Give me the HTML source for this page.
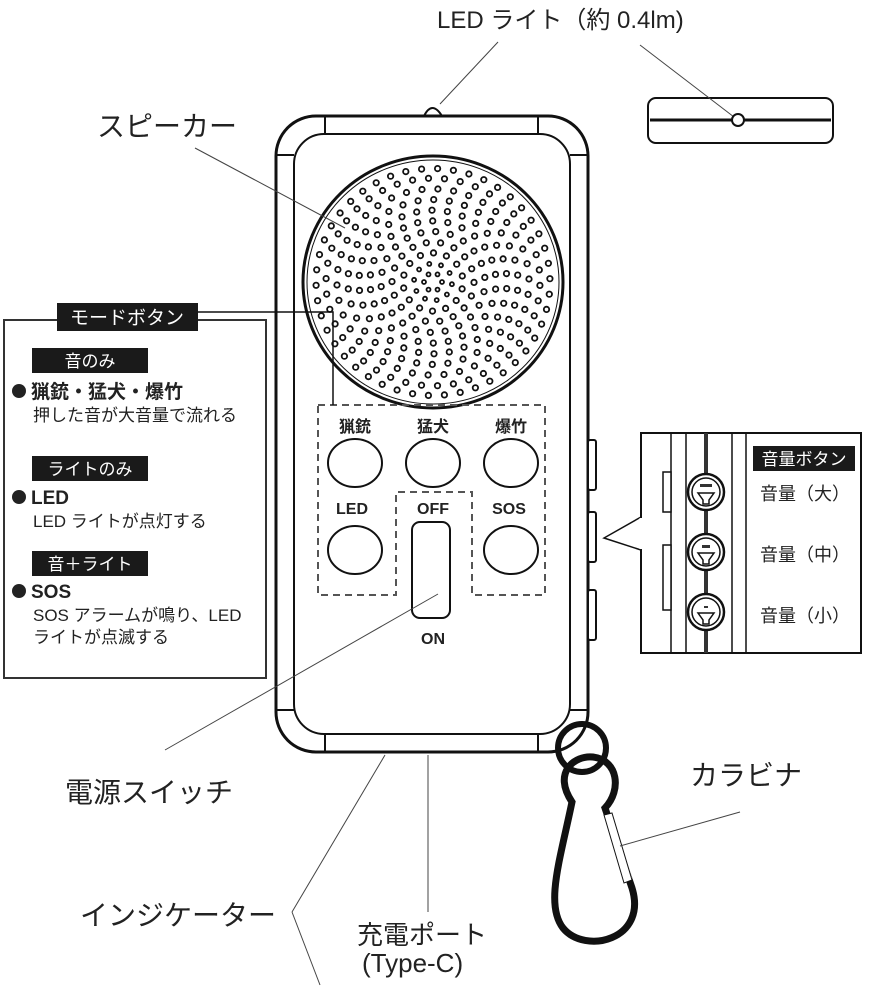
<!DOCTYPE html>
<html><head><meta charset="utf-8"><style>
html,body{margin:0;padding:0;background:#fff;}
svg{display:block;}
text{font-family:"Liberation Sans","Noto Sans CJK JP",sans-serif;fill:#222;}
</style></head><body>
<svg id="s" width="869" height="987" viewBox="0 0 869 987" xmlns="http://www.w3.org/2000/svg">
<text x="437" y="28" font-size="24">LED ライト（約 0.4lm)</text>
<line x1="498" y1="42" x2="440" y2="104" stroke="#444" stroke-width="1"/>
<path d="M424,116 Q432,100 442,116" fill="#fff" stroke="#111" stroke-width="2"/>
<rect x="648" y="98" width="185" height="45" rx="8" fill="#fff" stroke="#111" stroke-width="2"/>
<line x1="650" y1="120" x2="831" y2="120" stroke="#111" stroke-width="3"/>
<line x1="640" y1="45" x2="734" y2="117" stroke="#444" stroke-width="1"/>
<circle cx="738" cy="120" r="6" fill="#fff" stroke="#111" stroke-width="2"/>
<text x="97" y="136" font-size="28">スピーカー</text>
<!-- device -->
<rect x="276" y="116" width="312" height="636" rx="40" fill="#fff" stroke="#111" stroke-width="3"/>
<rect x="294" y="134" width="276" height="600" rx="30" fill="#fff" stroke="#111" stroke-width="2"/>
<g stroke="#111" stroke-width="2">
<line x1="325" y1="116" x2="325" y2="134"/><line x1="538" y1="116" x2="538" y2="134"/>
<line x1="325" y1="734" x2="325" y2="752"/><line x1="538" y1="734" x2="538" y2="752"/>
<line x1="276" y1="155" x2="294" y2="155"/><line x1="570" y1="155" x2="588" y2="155"/>
<line x1="276" y1="710" x2="294" y2="710"/><line x1="570" y1="710" x2="588" y2="710"/>
</g>
<g fill="#fff" stroke="#111" stroke-width="2">
<rect x="588" y="440" width="8" height="50" rx="2"/>
<rect x="588" y="512" width="8" height="50" rx="2"/>
<rect x="588" y="590" width="8" height="50" rx="2"/>
</g>
<ellipse cx="433" cy="282" rx="130" ry="126" fill="#fff" stroke="#111" stroke-width="3"/>
<ellipse cx="433" cy="282" rx="126" ry="122" fill="none" stroke="#111" stroke-width="1"/>
<g id="dots" fill="#fff" stroke="#111" stroke-width="1.8"></g>
<line x1="195" y1="148" x2="345" y2="228" stroke="#444" stroke-width="1"/>
<path d="M318,405 H545 V595 H472 V492 H396 V595 H318 Z" fill="none" stroke="#555" stroke-width="2" stroke-dasharray="7,5"/>
<g font-size="16" font-weight="bold" text-anchor="middle">
<text x="355" y="432">猟銃</text><text x="433" y="432">猛犬</text><text x="511" y="432">爆竹</text>
<text x="352" y="514">LED</text><text x="433" y="514">OFF</text><text x="509" y="514">SOS</text>
<text x="433" y="644">ON</text>
</g>
<g fill="#fff" stroke="#111" stroke-width="2">
<ellipse cx="355" cy="463" rx="27" ry="24"/><ellipse cx="433" cy="463" rx="27" ry="24"/><ellipse cx="511" cy="463" rx="27" ry="24"/>
<ellipse cx="355" cy="550" rx="27" ry="24"/><ellipse cx="511" cy="550" rx="27" ry="24"/>
<rect x="412" y="522" width="38" height="96" rx="8"/>
</g>
<!-- mode panel -->
<polyline points="198,312 333,312 333,405" fill="none" stroke="#111" stroke-width="1.5"/>
<rect x="4" y="320" width="262" height="358" fill="#fff" stroke="#333" stroke-width="2"/>
<rect x="57" y="303" width="141" height="28" fill="#1a1a1a"/>
<text x="127" y="324" font-size="19" style="fill:#fff" text-anchor="middle">モードボタン</text>
<g font-size="17">
<rect x="32" y="348" width="116" height="25" fill="#1a1a1a"/>
<text x="90" y="367" style="fill:#fff" text-anchor="middle">音のみ</text>
<circle cx="19" cy="391" r="7" fill="#222"/>
<text x="31" y="398" font-size="19" font-weight="bold">猟銃・猛犬・爆竹</text>
<text x="33" y="421">押した音が大音量で流れる</text>
<rect x="32" y="456" width="116" height="25" fill="#1a1a1a"/>
<text x="90" y="475" style="fill:#fff" text-anchor="middle">ライトのみ</text>
<circle cx="19" cy="497" r="7" fill="#222"/>
<text x="31" y="504" font-size="19" font-weight="bold">LED</text>
<text x="33" y="527">LED ライトが点灯する</text>
<rect x="32" y="551" width="116" height="25" fill="#1a1a1a"/>
<text x="90" y="570" style="fill:#fff" text-anchor="middle">音＋ライト</text>
<circle cx="19" cy="591" r="7" fill="#222"/>
<text x="31" y="598" font-size="19" font-weight="bold">SOS</text>
<text x="33" y="621">SOS アラームが鳴り、LED</text>
<text x="33" y="643">ライトが点滅する</text>
</g>
<!-- volume panel -->
<path d="M641,517 L604,538 L641,550" fill="#fff" stroke="#111" stroke-width="1.5"/>
<rect x="641" y="433" width="220" height="220" fill="#fff" stroke="#111" stroke-width="2"/>
<line x1="641" y1="518" x2="641" y2="549" stroke="#fff" stroke-width="3"/>
<g stroke="#111" stroke-width="1.5">
<line x1="671" y1="433" x2="671" y2="653"/><line x1="686" y1="433" x2="686" y2="653"/>
<line x1="732" y1="433" x2="732" y2="653"/><line x1="746" y1="433" x2="746" y2="653"/>
</g>
<line x1="706" y1="433" x2="706" y2="653" stroke="#333" stroke-width="4"/>
<rect x="663" y="472" width="8" height="40" fill="#fff" stroke="#111" stroke-width="1.5"/>
<rect x="663" y="545" width="8" height="65" fill="#fff" stroke="#111" stroke-width="1.5"/>
<g fill="#fff" stroke="#111">
<circle cx="706" cy="492" r="18" stroke-width="2.5"/><circle cx="706" cy="492" r="14" stroke-width="1.5"/>
<circle cx="706" cy="552" r="18" stroke-width="2.5"/><circle cx="706" cy="552" r="14" stroke-width="1.5"/>
<circle cx="706" cy="612" r="18" stroke-width="2.5"/><circle cx="706" cy="612" r="14" stroke-width="1.5"/>
<path d="M698,493 H714 L709,500 V504 H703 V500 Z" stroke-width="1.5"/>
<path d="M698,553 H714 L709,560 V564 H703 V560 Z" stroke-width="1.5"/>
<path d="M698,613 H714 L709,620 V624 H703 V620 Z" stroke-width="1.5"/>
</g>
<g fill="#333"><rect x="700" y="484" width="12" height="3"/><rect x="702" y="545" width="8" height="3"/><rect x="704" y="606" width="4" height="2"/></g>
<rect x="753" y="446" width="102" height="25" fill="#1a1a1a"/>
<text x="804" y="465" font-size="17" style="fill:#fff" text-anchor="middle">音量ボタン</text>
<g font-size="18"><text x="760" y="500">音量（大）</text><text x="760" y="561">音量（中）</text><text x="760" y="622">音量（小）</text></g>
<!-- carabiner -->
<circle cx="582" cy="748" r="24" fill="none" stroke="#111" stroke-width="6"/>
<path d="M572,802 C552,772 575,755 593,757 C618,760 622,790 605,808 L632,888 C648,940 585,955 563,928 C545,905 560,860 572,802 Z" fill="none" stroke="#111" stroke-width="7"/>
<line x1="609" y1="818" x2="628" y2="880" stroke="#fff" stroke-width="9"/>
<path d="M604,815 L612,813 L632,880 L624,883 Z" fill="#fff" stroke="#111" stroke-width="1"/>
<text x="65" y="802" font-size="28">電源スイッチ</text>
<line x1="165" y1="750" x2="438" y2="594" stroke="#444" stroke-width="1"/>
<text x="690" y="785" font-size="28">カラビナ</text>
<line x1="740" y1="812" x2="620" y2="846" stroke="#444" stroke-width="1"/>
<text x="80" y="925" font-size="28">インジケーター</text>
<line x1="292" y1="912" x2="385" y2="755" stroke="#444" stroke-width="1"/>
<line x1="292" y1="912" x2="320" y2="985" stroke="#444" stroke-width="1"/>
<line x1="428" y1="755" x2="428" y2="912" stroke="#444" stroke-width="1"/>
<text x="357" y="944" font-size="26">充電ポート</text>
<text x="362" y="972" font-size="26">(Type-C)</text>
</svg>
<script>
(function(){var g=document.getElementById('dots'),ns='http://www.w3.org/2000/svg';
var cx=433,cy=282;var rings=[[9,6],[19,10],[30,14],[41,18],[52,22],[63,26],[74,30],[85,34],[96,38],[107,42],[117,46]];
rings.forEach(function(r,k){for(var i=0;i<r[1];i++){var a=2*Math.PI*i/r[1]+k*0.12;var c=document.createElementNS(ns,'circle');
c.setAttribute('cx',(cx+r[0]*Math.cos(a)).toFixed(1));c.setAttribute('cy',(cy+r[0]*0.97*Math.sin(a)).toFixed(1));c.setAttribute('r',r[0]<30?2:2.7);g.appendChild(c);}});})();
</script>
</body></html>
